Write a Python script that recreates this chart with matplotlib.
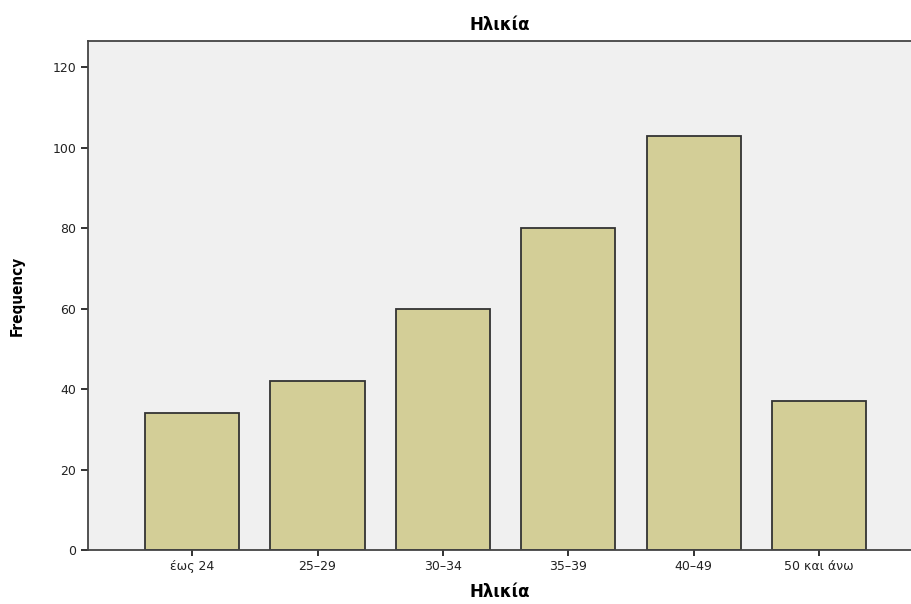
import matplotlib
matplotlib.use("Agg")
import matplotlib.pyplot as plt

# age groups and counts
categories = ["έως 24", "25-29", "30-34", "35-39", "40-49", "50 και άνω"]
counts = [34, 42, 60, 80, 103, 37]
yticks = [0, 20, 40, 60, 80, 100, 120]

plt.rcParams["font.family"] = ["DejaVu Sans"]

fig = plt.figure(figsize=(9.12, 6.04), dpi=100)
ax = fig.add_axes([88 / 912, 54 / 604, 1 - 88 / 912, (550 - 41) / 604])
ax.set_facecolor("#f0f0f0")

x = range(len(categories))
ax.bar(x, counts, width=0.75, color="#d3ce97", edgecolor="#333333", linewidth=1.3)

ax.set_xlim(-0.83, 5.74)
ax.set_ylim(0, 126.5)
ax.set_yticks(yticks)
ax.set_xticks(list(x))
ax.set_xticklabels([c.replace("-", "–") for c in categories])
ax.tick_params(axis="both", labelsize=9, colors="#222222", width=1.3,
               length=5, direction="out")
ax.tick_params(axis="x", length=4)

for s in ["left", "bottom", "top"]:
    ax.spines[s].set_color("#444444")
    ax.spines[s].set_linewidth(1.3)
ax.spines["right"].set_visible(False)

ax.set_title("Ηλικία", fontsize=12, fontweight="bold", pad=8)
ax.set_xlabel("Ηλικία", fontsize=12, fontweight="bold", labelpad=7)
ax.set_ylabel("Frequency", fontsize=11, fontweight="bold", labelpad=20,
              fontstretch="condensed")

fig.savefig("out.png", dpi=100)
